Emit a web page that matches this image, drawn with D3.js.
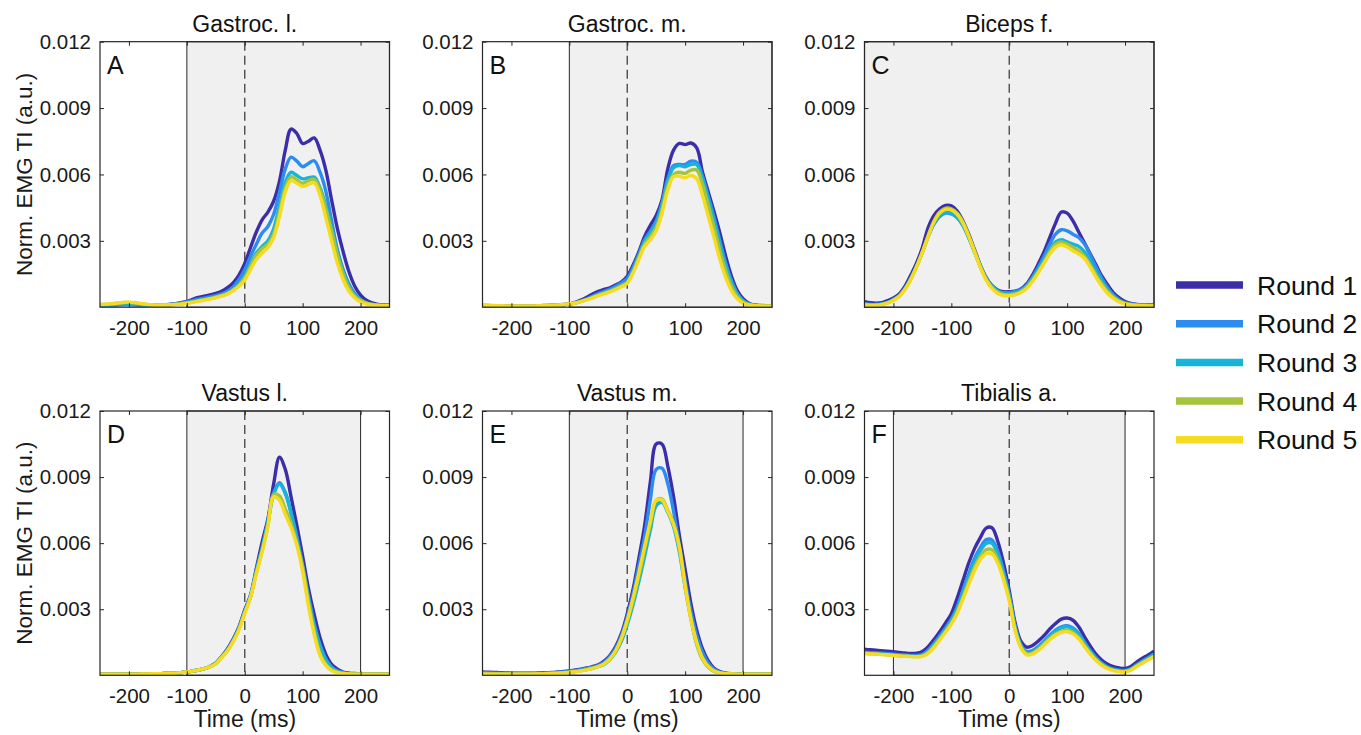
<!DOCTYPE html>
<html><head><meta charset="utf-8">
<script src="https://cdn.jsdelivr.net/npm/d3@7"></script>
<style>
body{margin:0;background:#fff;}
svg{display:block;font-family:"Liberation Sans",Arial,Helvetica,sans-serif;}
</style>
</head><body>
<svg id="chart" width="1361" height="735"></svg>
<script>
// ---------------- DATA ----------------
const time = [-250,-240,-230,-220,-210,-200,-190,-180,-170,-160,-150,-140,-130,-120,-110,-100,-90,-80,-70,-60,-50,-40,-30,-20,-10,0,10,20,30,40,50,60,70,80,90,100,110,120,130,140,150,160,170,180,190,200,210,220,230,240,250];
const rounds = ["Round 1","Round 2","Round 3","Round 4","Round 5"];
const roundColors = ["#3b2ea8","#2c8cf0","#17b4da","#a6c33e","#f5dc22"];
const muscles = ["Gastroc. l.","Gastroc. m.","Biceps f.","Vastus l.","Vastus m.","Tibialis a."];
const letters = ["A","B","C","D","E","F"];
const shadeFrom = [-100,-100,-250,-100,-100,-200];
const shadeTo   = [250,250,250,200,200,200];
const xTicks = [-200,-100,0,100,200];
const yTicks = [0.003,0.006,0.009,0.012];
const yTickLabels = ["0.003","0.006","0.009","0.012"];
const valueUnit = 0.001; // series below are read in units of 0.001 a.u.

const gastrocL = [
 [0.10,0.10,0.11,0.12,0.13,0.13,0.12,0.11,0.10,0.10,0.10, 0.11,0.13,0.16,0.20,0.26,0.36,0.44,0.50,0.55,0.62, 0.72,0.88,1.10,1.45,1.98, 2.70,3.40,3.95,4.30,4.80, 5.70,7.10,8.05,7.85,7.40, 7.50,7.65,7.10,6.20,4.85, 3.55,2.50,1.60,0.95,0.55, 0.32,0.20,0.13,0.10,0.10],
 [0.08,0.08,0.09,0.10,0.11,0.11,0.10,0.09,0.08,0.08,0.09, 0.10,0.12,0.15,0.19,0.24,0.30,0.36,0.41,0.46,0.52, 0.60,0.72,0.92,1.25,1.70, 2.30,2.85,3.35,3.65,4.20, 5.20,6.25,6.78,6.60,6.35, 6.50,6.62,6.10,5.25,3.90, 2.60,1.70,1.05,0.62,0.36, 0.21,0.13,0.10,0.08,0.08],
 [0.10,0.10,0.11,0.13,0.15,0.15,0.14,0.12,0.10,0.09,0.09, 0.10,0.11,0.13,0.16,0.20,0.26,0.31,0.36,0.41,0.47, 0.54,0.64,0.80,1.05,1.40, 1.95,2.45,2.75,3.00,3.55, 4.60,5.65,6.10,5.95,5.80, 5.85,5.88,5.40,4.60,3.60, 2.50,1.60,0.95,0.55,0.32, 0.19,0.12,0.09,0.08,0.08],
 [0.12,0.13,0.15,0.18,0.21,0.22,0.20,0.16,0.12,0.10,0.09, 0.10,0.11,0.13,0.15,0.19,0.24,0.29,0.34,0.39,0.45, 0.52,0.62,0.78,1.00,1.32, 1.85,2.35,2.65,2.85,3.30, 4.30,5.40,5.90,5.75,5.60, 5.72,5.78,5.30,4.45,3.45, 2.35,1.50,0.88,0.50,0.30, 0.18,0.12,0.09,0.08,0.08],
 [0.12,0.14,0.16,0.19,0.22,0.23,0.21,0.17,0.13,0.11,0.10, 0.10,0.11,0.12,0.14,0.18,0.22,0.27,0.32,0.37,0.43, 0.50,0.60,0.75,0.95,1.22, 1.70,2.15,2.45,2.70,3.15, 4.10,5.20,5.72,5.60,5.45, 5.55,5.62,5.05,4.05,3.00, 2.00,1.25,0.72,0.42,0.24, 0.15,0.10,0.08,0.07,0.07]
];
const gastrocM = [
 [0.07,0.07,0.07,0.07,0.07,0.07,0.07,0.07,0.07,0.07,0.07, 0.08,0.09,0.10,0.12,0.15,0.22,0.32,0.45,0.60,0.72, 0.80,0.88,1.00,1.15,1.40, 1.90,2.50,3.20,3.70,4.15, 4.85,6.25,7.10,7.40,7.35, 7.42,7.20,6.10,5.20,4.30, 3.35,2.30,1.40,0.75,0.38, 0.18,0.10,0.08,0.07,0.07],
 [0.05,0.05,0.05,0.05,0.05,0.05,0.05,0.05,0.05,0.05,0.06, 0.07,0.08,0.09,0.11,0.14,0.20,0.28,0.38,0.50,0.62, 0.72,0.82,0.95,1.10,1.30, 1.80,2.40,3.05,3.45,3.90, 4.70,5.80,6.40,6.45,6.45, 6.60,6.55,5.90,5.00,4.05, 3.00,2.00,1.20,0.62,0.30, 0.15,0.09,0.07,0.06,0.06],
 [0.05,0.05,0.05,0.05,0.05,0.05,0.05,0.05,0.05,0.05,0.06, 0.07,0.08,0.09,0.11,0.14,0.19,0.26,0.35,0.46,0.57, 0.66,0.75,0.87,1.00,1.15, 1.65,2.30,2.95,3.35,3.80, 4.60,5.70,6.30,6.40,6.35, 6.45,6.45,5.80,4.85,3.90, 2.85,1.90,1.12,0.58,0.28, 0.14,0.09,0.07,0.06,0.06],
 [0.05,0.05,0.05,0.05,0.05,0.05,0.05,0.05,0.05,0.05,0.06, 0.07,0.08,0.09,0.11,0.14,0.19,0.26,0.34,0.44,0.54, 0.63,0.72,0.84,0.97,1.12, 1.60,2.25,2.85,3.20,3.60, 4.40,5.45,6.00,6.10,6.05, 6.20,6.20,5.55,4.60,3.60, 2.55,1.65,0.95,0.48,0.24, 0.12,0.08,0.06,0.06,0.06],
 [0.12,0.10,0.08,0.07,0.06,0.06,0.06,0.06,0.06,0.06,0.07, 0.08,0.09,0.10,0.12,0.15,0.19,0.25,0.33,0.42,0.52, 0.60,0.69,0.80,0.92,1.08, 1.55,2.15,2.75,3.05,3.45, 4.25,5.30,5.90,5.92,5.85, 5.95,5.80,5.05,4.10,3.15, 2.15,1.35,0.75,0.38,0.18, 0.10,0.07,0.06,0.05,0.05]
];
const bicepsF = [
 [0.25,0.20,0.18,0.20,0.30,0.42,0.60,0.95,1.45,2.00,2.70, 3.60,4.15,4.45,4.60,4.58,4.35,3.90,3.30,2.60,1.90, 1.35,0.98,0.78,0.70,0.70, 0.72,0.82,1.05,1.45,1.95, 2.50,3.15,3.80,4.30,4.25, 3.90,3.40,2.90,2.40,1.90, 1.40,1.00,0.65,0.42,0.26, 0.17,0.13,0.11,0.10,0.10],
 [0.15,0.12,0.12,0.15,0.22,0.35,0.52,0.85,1.30,1.85,2.50, 3.20,3.75,4.10,4.25,4.22,4.05,3.70,3.15,2.50,1.85, 1.30,0.95,0.75,0.66,0.66, 0.70,0.80,1.00,1.35,1.80, 2.30,2.85,3.30,3.50,3.45, 3.30,3.15,2.85,2.35,1.80, 1.30,0.88,0.55,0.33,0.20, 0.14,0.11,0.10,0.09,0.09],
 [0.15,0.12,0.12,0.15,0.22,0.35,0.52,0.85,1.30,1.85,2.50, 3.20,3.80,4.15,4.30,4.25,4.05,3.70,3.15,2.50,1.85, 1.30,0.95,0.72,0.62,0.60, 0.65,0.75,0.95,1.30,1.70, 2.15,2.60,2.95,3.05,2.95, 2.85,2.75,2.50,2.05,1.60, 1.15,0.78,0.50,0.30,0.19, 0.13,0.10,0.09,0.08,0.08],
 [0.12,0.10,0.10,0.13,0.20,0.33,0.50,0.82,1.28,1.85,2.50, 3.25,3.90,4.30,4.48,4.45,4.25,3.85,3.25,2.55,1.85, 1.28,0.90,0.68,0.58,0.56, 0.60,0.70,0.90,1.22,1.60, 2.05,2.50,2.85,2.95,2.85, 2.70,2.55,2.30,1.90,1.45, 1.05,0.70,0.45,0.27,0.17, 0.12,0.09,0.08,0.07,0.07],
 [0.10,0.08,0.08,0.12,0.18,0.30,0.48,0.80,1.25,1.82,2.48, 3.20,3.85,4.25,4.42,4.40,4.20,3.80,3.20,2.50,1.80, 1.22,0.85,0.62,0.53,0.52, 0.56,0.66,0.85,1.15,1.55, 1.98,2.40,2.72,2.82,2.72, 2.55,2.40,2.20,1.80,1.35, 0.95,0.62,0.40,0.24,0.15, 0.10,0.08,0.07,0.06,0.06]
];
const vastusL = [
 [0.05,0.05,0.05,0.05,0.05,0.05,0.05,0.06,0.06,0.07,0.07, 0.08,0.09,0.10,0.12,0.15,0.19,0.24,0.30,0.40,0.55, 0.85,1.20,1.65,2.20,2.97, 3.65,4.85,6.05,7.10,8.70, 9.90,9.35,8.10,6.80,5.40, 3.95,2.75,1.70,0.95,0.50, 0.28,0.15,0.10,0.08,0.06, 0.05,0.05,0.05,0.05,0.05],
 [0.05,0.05,0.05,0.05,0.05,0.05,0.05,0.06,0.06,0.07,0.07, 0.08,0.09,0.10,0.12,0.15,0.19,0.24,0.30,0.40,0.55, 0.85,1.15,1.60,2.15,2.90, 3.60,4.75,5.80,7.00,8.30, 8.75,8.30,7.40,6.30,5.00, 3.60,2.35,1.40,0.75,0.38, 0.20,0.12,0.08,0.06,0.05, 0.05,0.05,0.05,0.05,0.05],
 [0.05,0.05,0.05,0.05,0.05,0.05,0.05,0.06,0.06,0.07,0.07, 0.08,0.09,0.10,0.12,0.15,0.19,0.24,0.30,0.39,0.54, 0.84,1.14,1.58,2.12,2.88, 3.58,4.72,5.75,6.95,8.22, 8.68,8.25,7.35,6.20,4.90, 3.50,2.25,1.32,0.70,0.35, 0.18,0.11,0.07,0.06,0.05, 0.05,0.05,0.05,0.05,0.05],
 [0.05,0.05,0.05,0.05,0.05,0.05,0.05,0.06,0.06,0.07,0.07, 0.08,0.09,0.10,0.12,0.15,0.19,0.24,0.30,0.39,0.53, 0.82,1.12,1.55,2.10,2.85, 3.55,4.65,5.65,6.80,8.20, 8.15,7.55,6.90,6.00,4.90, 3.35,2.00,1.00,0.50,0.25, 0.14,0.09,0.07,0.06,0.05, 0.05,0.05,0.05,0.05,0.05],
 [0.05,0.05,0.05,0.05,0.05,0.05,0.05,0.06,0.06,0.07,0.07, 0.08,0.09,0.10,0.12,0.15,0.19,0.24,0.30,0.38,0.52, 0.80,1.10,1.52,2.05,2.80, 3.55,4.60,5.60,6.75,8.10, 7.95,7.30,6.70,5.90,4.70, 3.15,1.85,0.90,0.45,0.22, 0.12,0.08,0.06,0.05,0.05, 0.05,0.05,0.05,0.05,0.05]
];
const vastusM = [
 [0.15,0.14,0.13,0.12,0.11,0.10,0.10,0.10,0.10,0.10,0.11, 0.12,0.13,0.15,0.17,0.20,0.24,0.28,0.33,0.40,0.48, 0.65,0.90,1.30,1.90,2.80, 3.90,5.30,6.80,8.80,10.50, 10.50,9.50,8.10,6.35,4.80, 3.25,2.05,1.20,0.65,0.32, 0.17,0.10,0.07,0.06,0.05, 0.05,0.05,0.05,0.05,0.05],
 [0.12,0.11,0.10,0.09,0.09,0.08,0.08,0.08,0.08,0.08,0.09, 0.10,0.11,0.13,0.15,0.18,0.22,0.26,0.31,0.37,0.45, 0.60,0.85,1.22,1.80,2.65, 3.70,5.00,6.30,8.00,9.35, 9.40,8.70,7.45,5.90,4.30, 2.90,1.80,1.05,0.55,0.28, 0.14,0.09,0.06,0.05,0.05, 0.05,0.05,0.05,0.05,0.05],
 [0.08,0.08,0.07,0.07,0.07,0.06,0.06,0.06,0.06,0.06,0.07, 0.08,0.09,0.10,0.12,0.14,0.17,0.21,0.26,0.32,0.40, 0.50,0.72,1.05,1.55,2.30, 3.20,4.25,5.40,6.60,7.70, 7.85,7.40,6.75,5.60,4.00, 2.60,1.45,0.75,0.38,0.20, 0.12,0.08,0.06,0.05,0.05, 0.05,0.05,0.05,0.05,0.05],
 [0.07,0.07,0.07,0.06,0.06,0.06,0.06,0.06,0.06,0.06,0.07, 0.08,0.09,0.10,0.12,0.14,0.17,0.21,0.26,0.32,0.40, 0.52,0.75,1.10,1.65,2.45, 3.40,4.50,5.70,6.90,7.95, 8.00,7.50,6.90,5.75,4.00, 2.55,1.40,0.72,0.36,0.18, 0.11,0.07,0.06,0.05,0.05, 0.05,0.05,0.05,0.05,0.05],
 [0.05,0.05,0.05,0.05,0.05,0.05,0.05,0.05,0.05,0.06,0.06, 0.07,0.08,0.09,0.11,0.13,0.16,0.20,0.25,0.31,0.40, 0.52,0.75,1.12,1.70,2.50, 3.50,4.65,5.85,7.00,7.95, 7.95,7.45,6.85,5.85,4.10, 2.55,1.50,0.78,0.40,0.20, 0.11,0.07,0.06,0.05,0.05, 0.05,0.05,0.05,0.05,0.05]
];
const tibialisA = [
 [1.18,1.16,1.14,1.12,1.09,1.07,1.04,1.01,0.99,1.00,1.08, 1.30,1.62,1.98,2.38,2.80,3.50,4.30,5.10,5.75,6.25, 6.68,6.70,6.10,5.10,3.85, 2.40,1.55,1.28,1.35,1.55, 1.80,2.10,2.35,2.55,2.60, 2.50,2.20,1.75,1.32,0.95, 0.68,0.50,0.39,0.33,0.31, 0.40,0.60,0.78,0.92,1.10],
 [1.05,1.03,1.02,1.00,0.98,0.96,0.94,0.92,0.90,0.90,0.95, 1.15,1.45,1.80,2.15,2.55,3.10,3.85,4.60,5.30,5.80, 6.15,6.15,5.65,4.75,3.65, 2.25,1.40,1.08,1.12,1.30, 1.55,1.82,2.05,2.20,2.25, 2.15,1.90,1.50,1.12,0.80, 0.55,0.38,0.28,0.23,0.22, 0.30,0.48,0.65,0.80,0.97],
 [1.02,1.00,0.99,0.97,0.95,0.93,0.91,0.89,0.87,0.86,0.90, 1.08,1.38,1.72,2.08,2.48,3.00,3.72,4.45,5.15,5.65, 5.98,6.00,5.50,4.65,3.60, 2.20,1.35,1.02,1.05,1.25, 1.50,1.78,2.00,2.15,2.20, 2.10,1.85,1.45,1.08,0.76, 0.52,0.36,0.26,0.21,0.20, 0.28,0.45,0.62,0.78,0.93],
 [1.00,0.98,0.97,0.95,0.93,0.91,0.89,0.87,0.86,0.85,0.88, 1.04,1.32,1.65,2.00,2.38,2.88,3.55,4.25,4.90,5.40, 5.70,5.70,5.25,4.45,3.45, 2.10,1.30,0.98,1.00,1.18, 1.42,1.67,1.88,2.00,2.05, 1.95,1.72,1.35,1.00,0.70, 0.48,0.33,0.23,0.18,0.17, 0.25,0.42,0.58,0.73,0.88],
 [0.99,0.97,0.96,0.94,0.92,0.90,0.88,0.86,0.85,0.84,0.86, 1.00,1.27,1.60,1.95,2.32,2.80,3.45,4.12,4.75,5.25, 5.52,5.52,5.10,4.35,3.38, 2.05,1.25,0.93,0.96,1.13, 1.37,1.62,1.82,1.95,1.98, 1.88,1.65,1.30,0.96,0.67, 0.45,0.30,0.21,0.17,0.16, 0.23,0.40,0.55,0.70,0.84]
];
const panelSeries = [gastrocL, gastrocM, bicepsF, vastusL, vastusM, tibialisA];

// ---------------- LAYOUT ----------------
const colX = [100, 482.5, 864.5];
const rowY = [41.7, 411];
const rowH = [265.5, 264.3];
const pw = 289.5;
const tickLen = 4;
const svg = d3.select("#chart");
const axisColor = "#262626";
const FONT = "\"Liberation Sans\",Arial,sans-serif";

panelSeries.forEach((series, i) => {
  const col = i % 3, row = Math.floor(i / 3);
  const h = rowH[row];
  const g = svg.append("g").attr("transform", `translate(${colX[col]},${rowY[row]})`);
  const x = d3.scaleLinear().domain([-250, 250]).range([0, pw]);
  const y = d3.scaleLinear().domain([0, 0.012]).range([h, 0]);

  const clipId = "clip" + i;
  g.append("clipPath").attr("id", clipId).append("rect")
    .attr("x", 0).attr("y", 0).attr("width", pw).attr("height", h);

  // shaded window
  g.append("rect")
    .attr("x", x(shadeFrom[i])).attr("y", 0)
    .attr("width", x(shadeTo[i]) - x(shadeFrom[i])).attr("height", h)
    .attr("fill", "#f0f0f0").attr("stroke", "#3a3a3a").attr("stroke-width", 1.1);

  // dashed zero line
  g.append("line").attr("x1", x(0)).attr("x2", x(0)).attr("y1", 0).attr("y2", h)
    .attr("stroke", "#4d4d4d").attr("stroke-width", 1.4).attr("stroke-dasharray", "9,5");

  // curves
  const line = d3.line()
    .x((d, k) => x(time[k]))
    .y(d => y(d * valueUnit))
    .curve(d3.curveCatmullRom);
  g.append("g").attr("clip-path", `url(#${clipId})`)
    .selectAll("path").data(series).join("path")
    .attr("d", line)
    .attr("fill", "none")
    .attr("stroke", (d, k) => roundColors[k])
    .attr("stroke-width", 3.4)
    .attr("stroke-linejoin", "round");

  // axes
  const ax = (a) => a.call(s => s.select(".domain").remove())
                     .call(s => s.selectAll(".tick line").attr("stroke", axisColor))
                     .call(s => s.selectAll("text").attr("fill", "#1a1a1a").style("font-size", "20.5px")
                           .style("font-family", FONT));
  g.append("g").attr("transform", `translate(0,${h})`)
    .call(d3.axisBottom(x).tickValues(xTicks).tickSize(-tickLen).tickPadding(13).tickFormat(d => d))
    .call(ax);
  g.append("g")
    .call(d3.axisTop(x).tickValues(xTicks).tickSize(-tickLen).tickFormat(""))
    .call(ax);
  g.append("g")
    .call(d3.axisLeft(y).tickValues(yTicks).tickSize(-tickLen).tickPadding(9)
      .tickFormat((d, k) => yTickLabels[k]))
    .call(ax);
  g.append("g").attr("transform", `translate(${pw},0)`)
    .call(d3.axisRight(y).tickValues(yTicks).tickSize(-tickLen).tickFormat(""))
    .call(ax);

  // box
  g.append("rect").attr("x", 0).attr("y", 0).attr("width", pw).attr("height", h)
    .attr("fill", "none").attr("stroke", axisColor).attr("stroke-width", 1.2);

  // title & letter
  g.append("text").attr("x", pw / 2).attr("y", -10).attr("text-anchor", "middle")
    .attr("font-size", 23).attr("fill", "#111").text(muscles[i]);
  g.append("text").attr("x", 7).attr("y", 32).attr("font-size", 25).attr("fill", "#111").text(letters[i]);

  if (col === 0) {
    g.append("text")
      .attr("transform", `translate(${32 - colX[0]},${h / 2}) rotate(-90)`)
      .attr("text-anchor", "middle").attr("font-size", 22.5).attr("fill", "#1a1a1a")
      .text("Norm. EMG TI (a.u.)");
  }
  if (row === 1) {
    g.append("text").attr("x", pw / 2).attr("y", h + 52).attr("text-anchor", "middle")
      .attr("font-size", 23).attr("fill", "#1a1a1a").text("Time (ms)");
  }
});

// legend
const legend = svg.append("g").attr("transform", "translate(1176,285)");
const leg = legend.selectAll("g").data(rounds).join("g")
  .attr("transform", (d, k) => `translate(0,${k * 38.7})`);
leg.append("line").attr("x1", 0).attr("x2", 67).attr("y1", 0).attr("y2", 0)
  .attr("stroke", (d, k) => roundColors[k]).attr("stroke-width", 7.5);
leg.append("text").attr("x", 81).attr("y", 0).attr("dy", "0.36em")
  .attr("font-size", 26.5).attr("fill", "#111").text(d => d);
</script>
</body></html>
